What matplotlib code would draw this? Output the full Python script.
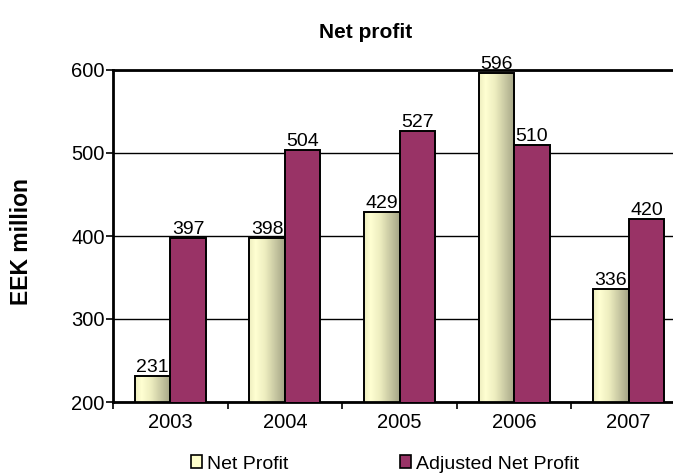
import numpy as np
import matplotlib
matplotlib.use("Agg")
import matplotlib.pyplot as plt
from matplotlib.colors import LinearSegmentedColormap
from matplotlib.patches import Patch

years = ["2003", "2004", "2005", "2006", "2007"]
net_profit = [231, 398, 429, 596, 336]
adjusted_net_profit = [397, 504, 527, 510, 420]
y_ticks = [200, 300, 400, 500, 600]

plt.rcParams['font.family'] = ['Liberation Sans', 'DejaVu Sans']

fig = plt.figure(figsize=(6.73, 4.75), dpi=100)
ax = fig.add_axes([113 / 673, 1 - 402 / 475, 573 / 673, 332 / 475])

ymin, ymax = 200, 600
ax.set_xlim(-0.5, len(years) - 0.5)
ax.set_ylim(ymin, ymax)

# pale yellow bars get a horizontal shading, left light -> right olive
shade = LinearSegmentedColormap.from_list(
    "shade", [(0.0, "#ECECBE"), (0.18, "#FFFFD2"), (0.45, "#EDEDBF"), (1.0, "#A4A486")])
grad = np.linspace(0, 1, 256).reshape(1, -1)

x = np.arange(len(years))
w = 0.31

bars_np = ax.bar(x - w / 2, net_profit, width=w, facecolor="none",
                 edgecolor="black", linewidth=1.4, zorder=3)
bars_adj = ax.bar(x + w / 2, adjusted_net_profit, width=w, color="#993366",
                  edgecolor="black", linewidth=1.4, zorder=3)

for rect in bars_np:
    x0 = rect.get_x()
    top = rect.get_y() + rect.get_height()
    im = ax.imshow(grad, cmap=shade, aspect="auto", zorder=2,
                   extent=(x0, x0 + rect.get_width(), ymin, top))
    im.set_clip_path(rect)

for rects, vals in ((bars_np, net_profit), (bars_adj, adjusted_net_profit)):
    for rect, v in zip(rects, vals):
        ax.annotate(str(v), (rect.get_x() + rect.get_width() / 2, v),
                    xytext=(0, 0), textcoords="offset points",
                    ha="center", va="bottom", fontsize=14, zorder=4)

ax.set_xlim(-0.5, len(years) - 0.5)
ax.set_ylim(ymin, ymax)
ax.set_yticks(y_ticks)
ax.set_xticks(x)
ax.set_xticklabels(years)
ax.set_xticks(np.arange(len(years) + 1) - 0.5, minor=True)
ax.tick_params(axis="x", which="major", length=0, labelsize=14.5, pad=8)
ax.tick_params(axis="x", which="minor", length=5, width=1.2, direction="out")
ax.tick_params(axis="y", length=5, width=1.2, labelsize=14.5, pad=1)

ax.yaxis.grid(True, color="black", linewidth=1.0, zorder=0)
ax.set_axisbelow(True)
for side in ("left", "bottom", "top"):
    ax.spines[side].set_linewidth(2.0)
ax.spines["right"].set_visible(False)

fig.text(366 / 673, 1 - 32 / 475, "Net profit", ha="center", va="center",
         fontsize=15, fontweight="bold")
fig.text(22 / 673, 1 - 242 / 475, "EEK million", ha="center", va="center",
         rotation=90, fontsize=16.5, fontweight="bold")

handles = [Patch(facecolor="#FFFFCC", edgecolor="black", linewidth=1.2),
           Patch(facecolor="#993366", edgecolor="black", linewidth=1.2)]
fig.legend(handles, ["Net Profit", "Adjusted Net Profit"], loc="center",
           bbox_to_anchor=(385 / 673, 1 - 464 / 475), ncol=2, frameon=False,
           fontsize=14, handlelength=0.6, handleheight=0.6, handletextpad=0.25,
           columnspacing=5.7, borderpad=0)

fig.savefig("out.png", dpi=100)
